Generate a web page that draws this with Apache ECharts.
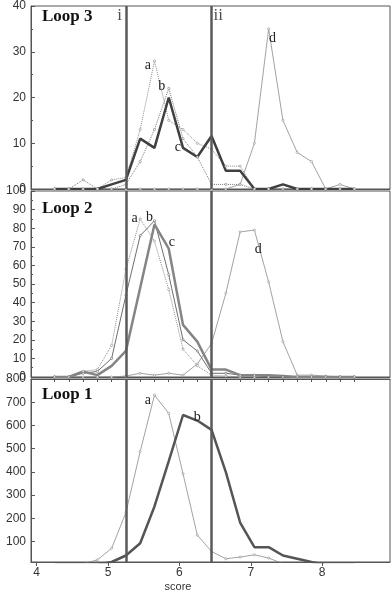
<!DOCTYPE html>
<html>
<head>
<meta charset="utf-8">
<script src="https://cdn.jsdelivr.net/npm/echarts@6/dist/echarts.min.js"></script>
<style>html,body{margin:0;padding:0;background:#fff}#c{width:392px;height:593px}</style>
</head>
<body>
<div id="c"></div>
<script>
// ---- data ----
const xs = [4.25,4.45,4.65,4.85,5.05,5.25,5.45,5.65,5.85,6.05,6.25,6.45,6.65,6.85,7.05,7.25,7.45,7.65,7.85,8.05,8.25,8.45];
const loop3A = [0,0,0,0,2,2.5,13,28,15,13,10,8.7,5,5,0,0,0,0,0,0,0,0];
const loop3B = [0,0,2,0,0,1,6,13,22,11,7,1,1,1,0,0,0,0,0,0,0,0];
const loop3C = [0,0,0,0,1,2,11,9,20,9,7,11.6,4,4,0,0,1,0,0,0,0,0];
const loop3D = [0,0,0,0,0,0,0,0,0,0,0,0,0,1,10,35,15,8,6,0,1,0];
const loop2A = [0,0,3,4,17,58,85,73,47,15,6,1,0.5,0,0,0,0,0,0,0,0,0];
const loop2B = [0,0,2,3,10,44,76,84,55,20,14,2,2,1,1,0,0,0,0,0,0,0];
const loop2C = [0,0,3,1,6,14,48,82,69,28,19,4,4,1,1,1,0.5,0,0,0,0,0];
const loop2D = [0,0,0,0,0,0.5,2,1,2,1,7,18,45,78,79,51,19,1,1,0.5,0,0];
const loop1A = [0,0,5,21,71,225,488,731,652,392,128,57,26,33,43,29,5,0,0,0,0,0];
const loop1B = [0,0,0,0,12,40,93,251,446,645,621,581,399,182,76,76,40,26,12,0,0,0];
const cutoffs = [5.25, 6.45];
const cutoffNames = ['i', 'ii'];
const xTickLabels = [4,5,6,7,8];
const loop1YLabels = [100,200,300,400,500,600,700,800];
const panelTitles = ['Loop 3', 'Loop 2', 'Loop 1'];

// ---- helpers ----
const serif = 'Liberation Serif';
const sans = 'Liberation Sans';
function pts(vals, labelIdx, text, lab) {
  return xs.map((x, i) => {
    if (i === labelIdx) {
      return { value: [x, vals[i]], label: Object.assign({ show: true, formatter: text, fontFamily: serif, fontSize: 14, color: '#222' }, lab) };
    }
    return [x, vals[i]];
  });
}
function thin(color, type, w) {
  return { color: color, width: w || 0.8, type: type || 'solid' };
}
const markLines = {
  silent: true, symbol: 'none', animation: false,
  label: { show: false },
  lineStyle: { color: '#5a5a5a', width: 2.5, type: 'solid' },
  data: cutoffs.map(c => ({ xAxis: c }))
};

const grids = [
  { left: 31, right: 2, top: 2, height: 187 },
  { left: 31, right: 2, top: 191, height: 186 },
  { left: 31, right: 2, top: 379, height: 184 }
].map(g => Object.assign({ show: true, borderColor: '#555', borderWidth: 1, backgroundColor: 'transparent' }, g));

const xBase = { type: 'value', min: 3.92, max: 8.95, splitLine: { show: false },
  axisLine: { show: true, lineStyle: { color: '#555', width: 1 } } };
const xAxes = [
  Object.assign({ gridIndex: 0, axisLabel: { show: false }, axisTick: { show: false } }, xBase),
  Object.assign({ gridIndex: 1, axisLabel: { show: false }, axisTick: { show: false } }, xBase),
  Object.assign({ gridIndex: 2,
    axisLabel: { show: true, customValues: xTickLabels, fontFamily: sans, fontSize: 12, color: '#333', margin: 5 },
    axisTick: { show: true, customValues: xTickLabels, length: 4, lineStyle: { color: '#555' } },
    name: 'score', nameLocation: 'middle', nameGap: 19,
    nameTextStyle: { fontFamily: sans, fontSize: 11, color: '#333', padding: [0, 65, 0, 0] } }, xBase),
  Object.assign({ gridIndex: 2, axisLabel: { show: false },
    axisTick: { show: true, inside: true, customValues: xs, length: 3, lineStyle: { color: '#555' } } }, xBase)
];
const yLab = { fontFamily: sans, fontSize: 12, color: '#333', margin: 5 };
const yAxes = [
  { gridIndex: 0, type: 'value', min: 0, max: 40, interval: 10 },
  { gridIndex: 1, type: 'value', min: 0, max: 100, interval: 10 },
  { gridIndex: 2, type: 'value', min: 12, max: 800 }
].map((y, k) => Object.assign({
  splitLine: { show: false },
  axisLine: { show: true, lineStyle: { color: '#555', width: 1 } },
  axisLabel: k === 2 ? Object.assign({ customValues: loop1YLabels }, yLab) : yLab,
  axisTick: k === 2 ? { show: true, inside: true, length: 4, customValues: loop1YLabels, lineStyle: { color: '#555' } }
                    : { show: true, inside: true, length: 4, lineStyle: { color: '#555' } },
  minorTick: k === 2 ? { show: false } : { show: true, splitNumber: 2, length: 2, lineStyle: { color: '#555' } }
}, y));

function line(xi, vals, style, sym, labelIdx, text, lab, extra) {
  return Object.assign({
    type: 'line', xAxisIndex: xi, yAxisIndex: xi > 2 ? 2 : xi,
    data: labelIdx == null ? pts(vals) : pts(vals, labelIdx, text, lab),
    lineStyle: style,
    itemStyle: { color: '#fff', borderColor: style.color, borderWidth: 0.6 },
    symbol: 'circle', symbolSize: sym ? 2.2 : 0, showSymbol: true,
    silent: true, animation: false, clip: true, z: 3
  }, extra || {});
}

const series = [
  // Loop 3
  line(0, loop3D, thin('#8a8a8a'), true, 15, 'd', { position: 'right', distance: 0, offset: [-1, 9] }),
  line(0, loop3A, thin('#8a8a8a', 'dotted', 1), true, 7, 'a', { position: 'left', distance: 2, offset: [0, 4] }, { markLine: markLines }),
  line(0, loop3B, thin('#7a7a7a', 'dotted', 1), true, 8, 'b', { position: 'left', distance: 2, offset: [0, -2] }),
  line(0, loop3C, { color: '#404040', width: 2.5 }, false, 9, 'c', { position: 'left', distance: 2, offset: [0, 0] }),
  // Loop 2
  line(1, loop2D, thin('#8a8a8a'), true, 14, 'd', { position: 'right', distance: 0, offset: [-1, 19] }, { markLine: markLines }),
  line(1, loop2A, thin('#8a8a8a', 'dotted', 1), true, 6, 'a', { position: 'left', distance: 1, offset: [0, -1] }),
  line(1, loop2B, thin('#5e5e5e', 'solid', 0.9), true, 7, 'b', { position: 'left', distance: 0, offset: [0, -3] }),
  line(1, loop2C, { color: '#858585', width: 2.5 }, false, 8, 'c', { position: 'top', distance: 0, offset: [3, 1] }),
  // Loop 1
  line(2, loop1A, thin('#8a8a8a', 'solid', 0.8), true, 7, 'a', { position: 'left', distance: 2, offset: [0, 5] }, { markLine: markLines }),
  line(2, loop1B, { color: '#555555', width: 2.5 }, false, 10, 'b', { position: 'top', distance: 0, offset: [0, 4] })
];

// cutoff labels i / ii at top of Loop 3 panel
series.push({
  type: 'scatter', xAxisIndex: 0, yAxisIndex: 0, silent: true, animation: false,
  symbolSize: 0,
  data: cutoffs.map((c, k) => ({ value: [c, 40], name: cutoffNames[k],
    label: { show: true, formatter: cutoffNames[k], position: k === 0 ? 'left' : 'right',
      distance: k === 0 ? 4 : 2, offset: [0, 10], fontFamily: serif, fontSize: 17, color: '#222' } }))
});

const option = {
  backgroundColor: '#fff',
  animation: false,
  title: panelTitles.map((t, k) => ({
    text: t, left: 37, top: [3, 195, 381][k],
    textStyle: { fontFamily: serif, fontWeight: 'bold', fontSize: 17, color: '#111' }
  })),
  grid: grids,
  xAxis: xAxes,
  yAxis: yAxes,
  series: series
};
const chart = echarts.init(document.getElementById('c'), null, { renderer: 'canvas' });
chart.setOption(option);
</script>
</body>
</html>
